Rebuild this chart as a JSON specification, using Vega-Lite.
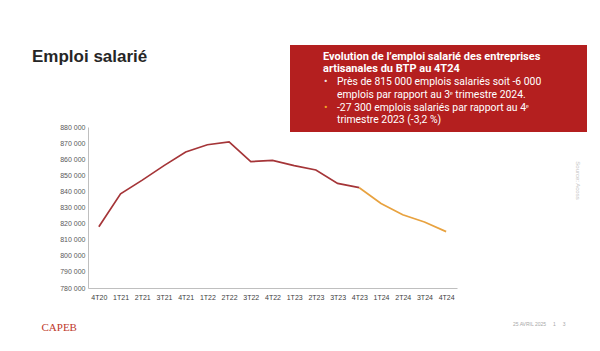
{
  "$schema": "https://vega.github.io/schema/vega-lite/v6.json",
  "background": "white",
  "padding": {"left": 32, "top": 45, "right": 0, "bottom": 0},
  "columns": 2,
  "bounds": "flush",
  "spacing": {"row": 0, "column": 0},
  "config": {"view": {"stroke": null}},
  "resolve": {"scale": {"color": "independent"}},
  "concat": [
    {
      "width": 202,
      "height": 87,
      "data": {"values": [{"text": "Emploi salarié"}]},
      "mark": {"type": "text", "align": "left", "baseline": "alphabetic", "font": "Liberation Sans", "fontSize": 17, "fontWeight": "bold", "color": "#262626"},
      "encoding": {
        "x": {"value": -56},
        "y": {"value": 17},
        "text": {"field": "text"}
      }
    },
    {
      "width": 297,
      "height": 87,
      "view": {"fill": "#b41f1f", "stroke": null},
      "data": {"values": [
        {"line": 1, "kind": "h", "text": "Evolution de l’emploi salarié des entreprises"},
        {"line": 2, "kind": "h", "text": "artisanales du BTP au 4T24"},
        {"line": 3, "kind": "b", "text": "Près de 815 000 emplois salariés soit -6 000"},
        {"line": 4, "kind": "c", "text": "emplois par rapport au 3ᵉ trimestre 2024."},
        {"line": 5, "kind": "b", "text": "-27 300 emplois salariés par rapport au 4ᵉ"},
        {"line": 6, "kind": "c", "text": "trimestre 2023 (-3,2 %)"}
      ]},
      "layer": [
        {
          "transform": [{"filter": "datum.kind == 'h'"}],
          "mark": {"type": "text", "align": "left", "baseline": "middle", "font": "Roboto", "fontSize": 11, "fontWeight": "bold", "color": "white"},
          "encoding": {
            "x": {"value": 33},
            "y": {"field": "line", "type": "ordinal", "scale": {"type": "point", "domain": [1, 2, 3, 4, 5, 6], "padding": 0.9}, "axis": null},
            "text": {"field": "text"}
          }
        },
        {
          "transform": [{"filter": "datum.kind == 'b'"}],
          "mark": {"type": "text", "align": "left", "baseline": "middle", "font": "Roboto", "fontSize": 10.4},
          "encoding": {
            "x": {"value": 34},
            "y": {"field": "line", "type": "ordinal", "scale": {"type": "point", "domain": [1, 2, 3, 4, 5, 6], "padding": 0.9}, "axis": null},
            "color": {"field": "line", "type": "nominal", "scale": {"domain": [3, 5], "range": ["#f3e3e3", "#f5a623"]}, "legend": null},
            "text": {"value": "•"}
          }
        },
        {
          "transform": [{"filter": "datum.kind != 'h'"}],
          "mark": {"type": "text", "align": "left", "baseline": "middle", "font": "Roboto", "fontSize": 10.4, "color": "white"},
          "encoding": {
            "x": {"value": 47},
            "y": {"field": "line", "type": "ordinal", "scale": {"type": "point", "domain": [1, 2, 3, 4, 5, 6], "padding": 0.9}, "axis": null},
            "text": {"field": "text"}
          }
        }
      ]
    },
    {
      "width": 202,
      "height": 156,
      "data": {"values": [
        {"q": "4T20", "value": 818000, "series": "a"},
        {"q": "1T21", "value": 838500, "series": "a"},
        {"q": "2T21", "value": 847000, "series": "a"},
        {"q": "3T21", "value": 856000, "series": "a"},
        {"q": "4T21", "value": 864500, "series": "a"},
        {"q": "1T22", "value": 869000, "series": "a"},
        {"q": "2T22", "value": 870700, "series": "a"},
        {"q": "3T22", "value": 858500, "series": "a"},
        {"q": "4T22", "value": 859300, "series": "a"},
        {"q": "1T23", "value": 856000, "series": "a"},
        {"q": "2T23", "value": 853300, "series": "a"},
        {"q": "3T23", "value": 845000, "series": "a"},
        {"q": "4T23", "value": 842300, "series": "a"},
        {"q": "4T23", "value": 842300, "series": "b"},
        {"q": "1T24", "value": 832500, "series": "b"},
        {"q": "2T24", "value": 825500, "series": "b"},
        {"q": "3T24", "value": 821000, "series": "b"},
        {"q": "4T24", "value": 815000, "series": "b"}
      ]},
      "layer": [
        {
          "mark": {"type": "line", "strokeWidth": 1.7},
          "encoding": {
            "x": {
              "field": "q", "type": "ordinal",
              "sort": ["4T20","1T21","2T21","3T21","4T21","1T22","2T22","3T22","4T22","1T23","2T23","3T23","4T23","1T24","2T24","3T24","4T24"],
              "scale": {"type": "point", "padding": 0.5, "range": [0, 369]},
              "axis": {
                "labelAngle": 0, "labelFontSize": 7, "labelColor": "#404040", "labelFont": "Liberation Sans", "labelPadding": 5,
                "ticks": false, "grid": false, "domainColor": "#bfbfbf", "domainWidth": 1,
                "title": "25 AVRIL 2025\u00a0\u00a0\u00a0\u00a0\u00a01\u00a0\u00a0\u00a0\u00a0\u00a03",
                "titleFontSize": 5, "titleColor": "#a8a8a8", "titleFontWeight": "normal", "titleFont": "Liberation Sans",
                "titleX": 477, "titleY": 37, "titleAlign": "right", "titleBaseline": "alphabetic"
              }
            },
            "y": {
              "field": "value", "type": "quantitative",
              "scale": {"domain": [780000, 880000], "nice": false, "zero": false, "range": [156, -5]},
              "axis": {
                "values": [780000, 790000, 800000, 810000, 820000, 830000, 840000, 850000, 860000, 870000, 880000],
                "labelExpr": "replace(format(datum.value, ','), ',', ' ')",
                "labelFontSize": 7, "labelColor": "#595959", "labelFont": "Liberation Sans", "labelPadding": 3,
                "ticks": false, "grid": false, "domainColor": "#bfbfbf", "domainWidth": 1,
                "title": "CAPEB", "titleAngle": 0, "titleX": -47, "titleY": 198, "titleAlign": "left", "titleBaseline": "alphabetic",
                "titleFont": "Liberation Serif", "titleFontSize": 11, "titleColor": "#c0392b", "titleFontWeight": "normal"
              }
            },
            "color": {"field": "series", "type": "nominal", "scale": {"domain": ["a", "b"], "range": ["#a53538", "#e8a23f"]}, "legend": null},
            "order": {"value": null}
          }
        },
        {
          "mark": {"type": "point", "opacity": 0},
          "encoding": {
            "x": {"field": "q", "type": "ordinal", "sort": ["4T20","1T21","2T21","3T21","4T21","1T22","2T22","3T22","4T22","1T23","2T23","3T23","4T23","1T24","2T24","3T24","4T24"]},
            "y": {
              "field": "value", "type": "quantitative",
              "axis": {
                "orient": "right", "labels": false, "ticks": false, "domain": false, "grid": false,
                "title": "Source: Acoss", "titleAngle": 90, "titleFontSize": 6, "titleColor": "#c4c4c4", "titleFontWeight": "normal", "titleFont": "Liberation Sans",
                "titleX": 287, "titleY": 48, "titleAlign": "center", "titleBaseline": "middle"
              }
            }
          }
        }
      ],
      "resolve": {"axis": {"y": "independent"}}
    }
  ]
}
